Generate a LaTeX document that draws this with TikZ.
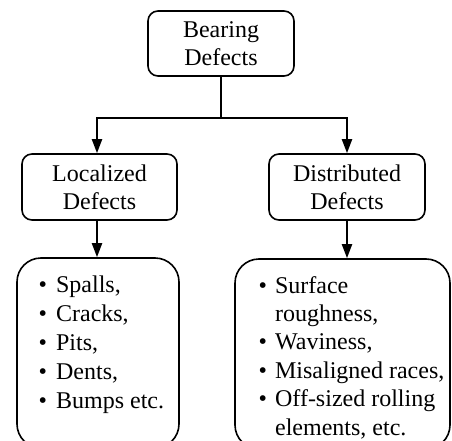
\documentclass[tikz,border=0pt]{standalone}
\usepackage{fontspec}
\newfontfamily\tnr{Liberation Serif}
\usetikzlibrary{arrows.meta}
\tikzset{
  box/.style={draw, line width=1.6pt, rounded corners=10pt, inner sep=0pt, align=center,
    font=\tnr\fontsize{24}{28}\selectfont},
  listbox/.style={draw, line width=1.6pt, rounded corners=24pt, inner sep=0pt},
  conn/.style={line width=2pt},
  arr/.style={line width=2pt, -{Triangle[length=14pt,width=10pt]}},
}
\begin{document}
\begin{tikzpicture}[x=1pt,y=-1pt]
\useasboundingbox (0,0) rectangle (452,441);
\clip (0,0) rectangle (452,441);
\node[box, minimum width=146pt, minimum height=65pt] (top) at (221,43.5) {Bearing\\Defects};
\node[box, minimum width=155pt, minimum height=66pt] (loc) at (99.5,187) {Localized\\Defects};
\node[box, minimum width=156pt, minimum height=66pt] (dist) at (347,187) {Distributed\\Defects};
\node[listbox, minimum width=162pt, minimum height=190pt] (lb) at (98,353) {};
\node[listbox, minimum width=215pt, minimum height=190pt] (rb) at (342.5,354) {};
\node[anchor=base west, inner sep=0pt, font=\tnr\fontsize{24}{29.2}\selectfont] (ltext) at (38.5,292)
  {\begin{tabular}[t]{@{}l@{\hspace{9pt}}l@{}}
   \textbullet & Spalls,\\
   \textbullet & Cracks,\\
   \textbullet & Pits,\\
   \textbullet & Dents,\\
   \textbullet & Bumps etc.
   \end{tabular}};
\node[anchor=base west, inner sep=0pt, font=\tnr\fontsize{24}{28.4}\selectfont] (rtext) at (258.5,293)
  {\begin{tabular}[t]{@{}l@{\hspace{8pt}}l@{}}
   \textbullet & Surface\\
    & roughness,\\
   \textbullet & Waviness,\\
   \textbullet & Misaligned races,\\
   \textbullet & Off-sized rolling\\
    & elements, etc.
   \end{tabular}};
\coordinate (jl) at (97,118);
\coordinate (jr) at (347,118);
\draw[conn] (top.south) -- (top.south |- jl);
\draw[conn, line cap=rect] (jl) -- (jr);
\draw[arr] (jl) -- (jl |- loc.north);
\draw[arr] (jr) -- (jr |- dist.north);
\draw[arr] (jl |- loc.south) -- (jl |- lb.north);
\draw[arr] (jr |- dist.south) -- (jr |- rb.north);
\end{tikzpicture}
\end{document}
